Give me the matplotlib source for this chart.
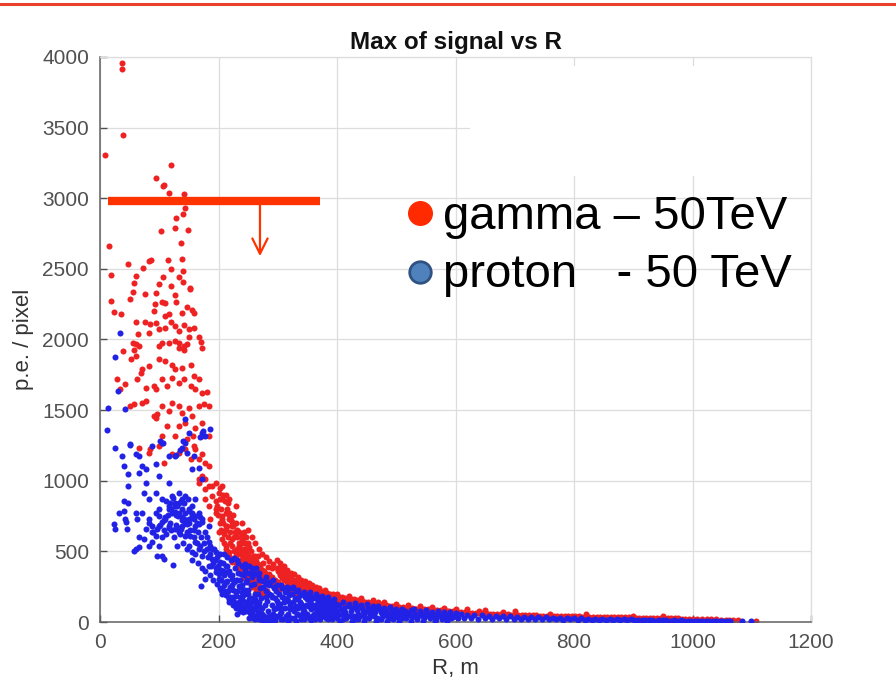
import matplotlib.pyplot as plt
from matplotlib.patches import Rectangle
from matplotlib.lines import Line2D

plt.rcParams['font.family'] = ['Liberation Sans', 'DejaVu Sans']

# gamma 50 TeV (R, p.e./pixel) - sparse part at small R
gamma_core = [
    (37, 3961), (37, 3915), (39, 3450), (8, 3308), (15, 2660), (19, 2460), (47, 2538), (61, 2448),
    (73, 2505), (82, 2559), (86, 2566), (106, 2441), (114, 2562), (119, 2500), (133, 2444), (139, 2571),
    (140, 2484), (136, 2684), (149, 2778), (126, 2786), (103, 2767), (129, 2861), (140, 2887), (144, 2932),
    (141, 3033), (117, 3038), (108, 3097), (106, 3085), (94, 3144), (119, 3238), (152, 2366),
    (57, 2400), (100, 2390), (140, 2410), (120, 2380),
    (19, 2271), (23, 2195), (35, 2184), (55, 2337), (51, 2287), (76, 2323), (94, 2330), (93, 2254),
    (104, 2264), (109, 2259), (127, 2318), (128, 2266), (152, 2358), (146, 2231), (155, 2212), (116, 2177),
    (110, 2165), (91, 2200), (139, 2188), (158, 2188),
    (60, 2122), (76, 2122), (85, 2113), (95, 2118), (100, 2071), (110, 2082), (119, 2122), (127, 2094),
    (133, 2059), (141, 2106), (150, 2071), (158, 2082), (167, 2019), (171, 1981), (172, 1941), (64, 2042),
    (82, 2047), (55, 1976), (61, 1965), (65, 1953), (99, 1953), (105, 1976), (116, 1972), (127, 1988),
    (133, 1976), (141, 1953), (147, 1965), (150, 2019), (39, 1917), (57, 1925), (133, 1941), (141, 1929),
    (53, 1859), (60, 1882), (71, 1788), (70, 1764), (82, 1811), (99, 1859), (109, 1847), (122, 1816),
    (127, 1788), (139, 1800), (153, 1816), (158, 1741), (167, 1717), (29, 1717), (34, 1647), (43, 1682),
    (63, 1717), (77, 1658), (91, 1670), (95, 1647), (105, 1717), (113, 1670), (122, 1729), (133, 1694),
    (141, 1717), (153, 1670), (161, 1647), (172, 1623), (181, 1628),
    (51, 1529), (57, 1541), (71, 1552), (77, 1564), (91, 1458), (95, 1446), (105, 1529), (116, 1493),
    (122, 1552), (133, 1529), (139, 1482), (150, 1517), (155, 1458), (167, 1529), (175, 1541), (184, 1529),
    (133, 1387), (144, 1411), (172, 1411), (161, 1376), (113, 1387), (96, 1470), (105, 1317), (127, 1317),
    (65, 1234), (82, 1199), (147, 1293), (158, 1246), (184, 1317), (172, 1317),
    (85, 1222), (99, 1246), (108, 1128), (122, 1187), (133, 1199), (143, 1222), (157, 1317), (161, 1222),
    (167, 1152), (178, 1128), (184, 1105), (153, 1152), (172, 1034), (167, 1010), (178, 1010), (184, 963),
    (172, 1187),
]

# gamma - knee region
gamma_knee = [
    (195, 987), (201, 916), (189, 893), (203, 869), (206, 963), (198, 822), (212, 775), (217, 728),
    (223, 681), (206, 728), (195, 775), (167, 987), (178, 940), (189, 964), (206, 870), (195, 799),
    (206, 752), (217, 775), (212, 681), (223, 705), (201, 634), (212, 540), (223, 587), (229, 493),
    (234, 540), (240, 446), (246, 516), (251, 422), (234, 375), (251, 328), (223, 422), (217, 493),
    (206, 587), (229, 634), (240, 610), (206, 705), (186, 728), (184, 823), (178, 870), (217, 870),
    (229, 823),
    (203, 950), (207, 900), (211, 860), (214, 800), (218, 760), (221, 720), (225, 680), (228, 640),
    (231, 600), (235, 560), (238, 520), (241, 480), (245, 450), (248, 420), (252, 390), (255, 360),
    (258, 340), (262, 320), (265, 300), (269, 280), (204, 800), (208, 700), (212, 650), (216, 600),
    (219, 560), (223, 540), (227, 500), (230, 470), (233, 430), (237, 400), (240, 380), (244, 360),
    (247, 330), (250, 310), (254, 290), (257, 270), (261, 260), (264, 240), (268, 230), (272, 220),
    (209, 620), (215, 680), (220, 640), (226, 600), (232, 520), (236, 480), (242, 420), (246, 390),
    (253, 340), (259, 300), (266, 270), (271, 250), (275, 240), (278, 230), (282, 220), (196, 860),
    (199, 760), (202, 700), (205, 650), (210, 560), (213, 520), (217, 470), (222, 440), (229, 420),
    (234, 380), (239, 340), (243, 310), (249, 280), (256, 250), (263, 220), (270, 200), (276, 190),
    (212, 900), (216, 840), (224, 760), (230, 700), (234, 640), (239, 580), (244, 520), (249, 470),
    (254, 430), (258, 400), (263, 370), (268, 350), (273, 330), (278, 310), (283, 290), (288, 270),
    (293, 250), (297, 240), (302, 230), (286, 340), (291, 320), (296, 300), (300, 280), (305, 265),
    (310, 250), (314, 240), (319, 230), (324, 220), (328, 210), (333, 200), (338, 195), (298, 380),
    (304, 350), (309, 320), (315, 300), (320, 280), (326, 265), (331, 250), (336, 240),
    (290, 380), (275, 420), (262, 470), (245, 560), (232, 650), (310, 330),
    (240, 700), (243, 640), (246, 600), (249, 560), (252, 530), (255, 500), (258, 470), (261, 450),
    (264, 430), (267, 410), (270, 390), (273, 370), (276, 360), (279, 345), (282, 330), (285, 320),
    (288, 305), (291, 295), (294, 285), (297, 275), (300, 268), (241, 560), (244, 520), (247, 490),
    (250, 470), (253, 450), (256, 430), (259, 410), (262, 395), (265, 380), (268, 360), (271, 345),
    (274, 330), (277, 315), (280, 300), (283, 290), (286, 280), (289, 270), (292, 260), (295, 252),
    (298, 245),
    (262, 560), (268, 520), (274, 480), (280, 460), (286, 430), (292, 410), (298, 440), (304, 420),
    (310, 400), (316, 370), (322, 350), (328, 340), (334, 320), (340, 300), (346, 290), (352, 275),
    (358, 265), (364, 250), (370, 240), (256, 600), (250, 650), (266, 470), (284, 390), (300, 360),
    (320, 310), (330, 280), (360, 240),
]

# gamma - tail
gamma_tail = [
    (341, 230), (346, 220), (351, 210), (356, 200), (361, 195), (366, 185), (371, 180), (376, 170),
    (381, 165), (386, 160), (391, 155), (396, 150), (343, 260), (349, 245), (354, 235), (359, 225),
    (364, 215), (369, 210), (374, 200), (379, 195), (384, 185), (389, 180), (394, 175), (399, 170),
    (404, 165), (409, 160), (414, 155), (419, 150), (424, 145), (429, 142), (434, 138), (439, 135),
    (444, 130), (449, 127), (404, 140), (410, 135), (416, 130), (422, 127), (428, 122), (434, 118),
    (440, 115), (446, 112), (452, 110), (458, 107), (464, 104), (470, 101), (476, 98), (482, 96),
    (454, 125), (460, 122), (466, 118), (472, 115), (478, 112), (484, 110), (490, 107), (496, 105),
    (502, 103), (508, 100), (514, 98), (520, 96), (526, 94), (532, 92), (538, 90), (544, 88),
    (550, 86), (488, 92), (494, 90), (500, 88), (506, 86), (512, 84), (518, 82), (524, 80),
    (530, 78), (536, 77), (542, 76), (548, 74), (556, 84), (562, 82), (568, 80), (574, 78),
    (580, 76), (586, 75), (592, 74), (598, 72), (604, 71), (610, 70), (616, 68), (622, 67),
    (628, 66), (634, 64), (640, 63), (646, 62), (652, 61), (658, 60), (664, 58), (670, 57),
    (676, 56), (682, 55), (688, 54), (694, 53), (700, 52), (706, 51), (712, 50), (718, 49),
    (724, 48), (730, 47), (736, 47), (742, 46), (748, 45), (754, 44), (760, 44), (766, 43),
    (772, 42), (778, 42), (784, 41), (790, 41), (796, 40), (802, 39), (808, 39), (814, 38),
    (820, 38), (826, 37), (832, 37), (838, 36), (844, 36), (850, 35), (856, 35), (862, 34),
    (868, 34), (874, 33), (880, 33), (886, 32), (892, 32), (898, 31), (904, 31), (910, 30),
    (916, 30), (922, 29), (928, 29), (934, 28), (940, 28), (946, 27), (952, 27), (958, 26),
    (964, 26), (970, 25), (976, 25), (982, 24), (988, 24), (994, 23), (1000, 23), (1008, 22),
    (1016, 21), (1024, 20), (1032, 19), (1040, 18), (1048, 17), (1056, 16), (1062, 15), (1068, 14),
    (1076, 13), (1108, 8),
    (560, 105), (620, 90), (700, 75), (760, 60), (820, 55), (900, 45), (950, 40), (650, 85),
    (580, 100), (470, 140), (420, 170), (370, 215),
    (303, 330), (307, 310), (311, 295), (315, 285), (319, 270), (323, 258), (327, 248), (331, 238),
    (335, 228), (339, 222), (343, 214), (347, 206), (351, 198), (355, 192), (359, 186), (363, 180),
    (367, 174), (371, 168), (375, 163), (379, 158), (383, 154), (387, 150), (391, 146), (395, 142),
    (399, 138), (303, 390), (308, 370), (313, 350), (318, 330), (323, 315), (328, 300), (333, 285),
    (338, 275), (343, 265), (348, 255), (353, 245), (358, 238), (363, 230), (368, 224), (373, 218),
    (378, 212), (383, 206), (388, 200), (393, 195), (398, 190),
    (403, 180), (408, 176), (413, 172), (418, 168), (423, 164), (428, 160), (433, 156), (438, 152),
    (443, 148), (448, 144), (453, 140), (458, 136), (463, 132), (468, 128), (473, 125), (478, 122),
    (483, 119), (488, 116), (493, 113), (498, 110), (405, 150), (411, 146), (417, 142), (423, 138),
    (429, 134), (435, 130), (441, 127), (447, 124), (453, 120), (459, 117), (465, 114), (471, 111),
    (477, 108), (483, 105), (489, 102), (495, 100),
    (505, 108), (512, 104), (519, 101), (526, 98), (533, 95), (540, 93), (547, 91), (554, 89),
    (561, 87), (568, 85), (575, 83), (582, 81), (589, 79), (596, 77), (505, 92), (512, 90),
    (519, 88), (526, 86), (533, 84), (540, 82), (547, 80), (554, 78), (561, 76), (568, 74),
    (575, 72), (582, 70), (589, 68), (596, 66),
    (380, 225), (400, 200), (420, 185), (440, 170), (460, 155), (480, 140), (500, 130), (520, 120),
    (540, 112), (560, 100), (600, 92), (640, 80), (680, 70),
]

# proton 50 TeV - sparse part at small R
proton_core = [
    (33, 2047), (26, 1875), (30, 1635), (42, 1505), (13, 1517), (11, 1359), (26, 1234), (51, 1258),
    (37, 1175), (40, 1105), (60, 1187), (65, 1175), (71, 1105), (65, 1058), (48, 1046), (88, 1246),
    (105, 1270), (94, 1116), (77, 1081), (99, 1034), (116, 1175), (127, 1175), (144, 1270), (143, 1434),
    (150, 1340), (139, 1234), (158, 1175), (172, 1340), (178, 1317), (186, 1364), (167, 1093), (155, 1081),
    (172, 1010), (116, 987), (77, 987), (74, 916), (82, 869), (94, 916), (48, 963), (40, 857),
    (32, 775), (43, 728), (60, 775), (71, 775), (82, 704), (99, 798), (110, 728), (122, 893),
    (127, 846), (133, 916), (139, 869), (144, 893), (150, 798), (155, 775), (161, 869), (167, 775),
    (172, 728), (105, 869), (116, 822), (122, 775), (133, 775), (141, 728), (147, 692), (158, 728),
    (167, 692), (184, 681), (99, 681), (116, 669), (133, 669),
    (23, 693), (25, 658), (40, 787), (48, 846), (44, 705), (46, 658), (63, 728), (65, 599),
    (60, 516), (65, 528), (57, 504), (74, 587), (77, 658), (88, 681), (82, 728), (94, 775),
    (99, 752), (105, 705), (110, 740), (116, 799), (127, 823), (133, 846), (139, 799), (144, 775),
    (150, 787), (155, 823), (88, 634), (94, 610), (99, 540), (105, 469), (108, 446), (123, 403),
    (116, 681), (127, 658), (133, 634), (139, 681), (144, 610), (150, 540), (155, 493), (161, 563),
    (167, 516), (172, 469), (150, 728), (161, 752), (172, 705), (178, 634), (88, 563), (96, 469),
    (82, 540),
    (174, 1350), (169, 1310), (140, 1280), (135, 1220), (146, 1200), (129, 1180), (107, 1265), (101, 1280),
    (51, 1255),
    (112, 860), (118, 840), (124, 880), (130, 820), (136, 860), (142, 840), (148, 870), (120, 800),
    (126, 780), (132, 750), (138, 720), (144, 700), (114, 760), (108, 720), (102, 690), (96, 660),
    (90, 640), (104, 600), (112, 620), (120, 650), (128, 690), (136, 660), (146, 640), (152, 610),
    (158, 650), (164, 700), (168, 740), (156, 760), (150, 700),
]

# proton - knee region
proton_knee = [
    (170, 257), (178, 304), (184, 398), (189, 446), (195, 351), (201, 304), (206, 234), (217, 139),
    (229, 186), (240, 210), (251, 116), (203, 422), (212, 351), (223, 304), (234, 257), (246, 281),
    (262, 163), (184, 563), (189, 516), (195, 493),
    (165, 640), (170, 600), (175, 560), (180, 520), (185, 480), (190, 420), (195, 380), (200, 340),
    (205, 300), (210, 260), (215, 220), (220, 180), (225, 150), (160, 680), (152, 650), (158, 600),
    (163, 560), (168, 540), (176, 500), (182, 460), (188, 400), (194, 440), (199, 400), (204, 370),
    (209, 330), (214, 290), (219, 250), (224, 230), (230, 210), (236, 180), (242, 150), (248, 140),
    (254, 120), (258, 100), (180, 600), (186, 540), (192, 520), (198, 460), (203, 480), (208, 420),
    (213, 400), (218, 360), (222, 330), (227, 280), (232, 300), (238, 250), (244, 230), (250, 200),
    (256, 170), (262, 140), (268, 110), (272, 90), (145, 700), (138, 740), (128, 760), (118, 700),
    (108, 650), (135, 620), (125, 600), (140, 560), (147, 520), (130, 540), (160, 480), (155, 440),
    (165, 420), (172, 380), (178, 360), (185, 330), (190, 300), (197, 270), (202, 240), (207, 210),
    (212, 190), (218, 160), (224, 120), (230, 100), (236, 80), (242, 70),
    (202, 420), (204, 300), (206, 200), (208, 360), (210, 220), (212, 280), (214, 400), (216, 220),
    (218, 180), (220, 330), (222, 260), (224, 180), (226, 140), (228, 380), (230, 300), (232, 220),
    (234, 140), (236, 120), (238, 340), (240, 260), (242, 190), (244, 110), (246, 400), (248, 300),
    (250, 230), (252, 160), (254, 90), (256, 70), (258, 350), (260, 270), (262, 200), (264, 130),
    (266, 70), (268, 310), (270, 240), (272, 170), (274, 100), (276, 40), (278, 290), (280, 220),
    (282, 150), (284, 80), (286, 260), (288, 190), (290, 120), (292, 60), (294, 240), (296, 170),
    (298, 100), (300, 40), (209, 480), (215, 460), (221, 440), (227, 450), (233, 420), (239, 400),
    (245, 370), (251, 350), (257, 320), (263, 340), (269, 300), (275, 290), (281, 270), (287, 280),
    (293, 250), (299, 260), (205, 230), (211, 200), (217, 170), (223, 150), (229, 130), (235, 110),
    (241, 95), (247, 80), (253, 65), (259, 50), (265, 40), (271, 30), (277, 20), (283, 15),
    (289, 10), (295, 15),
    (231, 60), (233, 350), (237, 300), (239, 160), (243, 330), (245, 200), (249, 120), (251, 400),
    (255, 260), (257, 150), (261, 90), (263, 380), (267, 200), (269, 140), (273, 60), (275, 250),
    (279, 120), (281, 180), (285, 200), (287, 30), (291, 180), (293, 90), (297, 220), (299, 150),
    (232, 440), (244, 410), (256, 380), (268, 350), (280, 320), (292, 300), (252, 30), (258, 25),
    (262, 20), (268, 20), (274, 15), (280, 10), (286, 40), (290, 25), (296, 45),
]

# proton - tail
proton_tail = [
    (302, 200), (304, 130), (306, 70), (308, 240), (310, 170), (312, 100), (314, 40), (316, 220),
    (318, 150), (320, 90), (322, 30), (324, 200), (326, 140), (328, 80), (330, 220), (332, 160),
    (334, 100), (336, 50), (338, 190), (340, 130), (342, 70), (344, 20), (346, 180), (348, 120),
    (350, 60), (352, 200), (354, 150), (356, 90), (358, 40), (360, 170), (362, 110), (364, 60),
    (366, 160), (368, 100), (370, 50), (372, 150), (374, 95), (376, 40), (378, 160), (380, 110),
    (382, 60), (384, 20), (386, 140), (388, 90), (390, 45), (392, 150), (394, 100), (396, 55),
    (398, 130), (400, 80), (400, 30), (305, 260), (315, 250), (325, 245), (335, 230), (345, 215),
    (355, 210), (365, 195), (375, 185), (385, 175), (395, 165),
    (301, 120), (303, 60), (307, 180), (309, 20), (311, 140), (313, 210), (317, 60), (319, 190),
    (321, 120), (323, 240), (327, 30), (329, 170), (331, 110), (333, 60), (337, 140), (339, 20),
    (341, 200), (343, 100), (347, 40), (349, 160), (351, 110), (353, 30), (357, 180), (359, 120),
    (361, 60), (363, 20), (367, 130), (369, 180), (371, 20), (373, 120), (377, 70), (379, 130),
    (381, 30), (383, 170), (387, 60), (389, 120), (391, 20), (393, 80), (397, 40), (399, 110),
    (305, 100), (315, 160), (325, 100), (335, 170), (345, 80), (355, 140), (365, 90), (375, 130),
    (385, 100), (395, 110), (305, 20), (318, 10), (330, 10), (342, 40), (356, 15), (368, 70),
    (380, 80), (392, 110),
    (404, 120), (408, 60), (412, 100), (416, 30), (420, 130), (424, 80), (428, 40), (432, 110),
    (436, 60), (440, 120), (444, 80), (448, 30), (452, 100), (456, 60), (460, 110), (464, 70),
    (468, 30), (472, 95), (476, 55), (480, 100), (484, 60), (488, 25), (492, 85), (496, 50),
    (500, 90), (505, 55), (510, 25), (515, 80), (520, 50), (525, 85), (530, 45), (535, 20),
    (540, 75), (545, 45), (550, 80), (555, 40), (560, 70), (565, 35), (570, 65), (575, 40),
    (580, 70), (585, 30), (590, 60), (595, 35), (600, 65), (410, 145), (430, 135), (450, 125),
    (470, 115), (490, 105), (510, 95), (530, 90), (550, 85), (570, 78), (590, 72),
    (402, 50), (406, 90), (410, 20), (414, 70), (418, 110), (422, 40), (426, 100), (430, 20),
    (434, 85), (438, 40), (442, 100), (446, 55), (450, 80), (454, 30), (458, 85), (462, 45),
    (466, 90), (470, 20), (474, 70), (478, 40), (482, 80), (486, 45), (490, 60), (494, 20),
    (498, 65), (502, 35), (507, 75), (512, 50), (517, 25), (522, 65), (527, 35), (532, 60),
    (537, 40), (542, 60), (547, 25), (552, 55), (557, 25), (562, 50), (567, 20), (572, 50),
    (577, 20), (582, 45), (587, 50), (592, 25), (597, 45),
    (405, 10), (425, 10), (445, 10), (465, 10), (485, 10), (505, 10), (525, 10), (545, 10),
    (565, 10), (585, 10), (415, 50), (435, 20), (455, 50), (475, 20), (495, 35),
    (605, 30), (610, 55), (615, 25), (620, 50), (626, 28), (632, 52), (638, 24), (644, 48),
    (650, 26), (656, 46), (662, 22), (668, 44), (674, 25), (680, 42), (686, 22), (692, 40),
    (698, 24), (704, 38), (710, 20), (716, 36), (722, 22), (728, 35), (734, 20), (740, 33),
    (746, 18), (752, 32), (758, 20), (764, 30), (770, 18), (776, 29), (782, 16), (788, 28),
    (794, 18), (800, 26), (806, 16), (812, 25), (818, 15), (824, 24), (830, 16), (836, 23),
    (842, 14), (848, 22), (854, 15), (860, 21), (866, 13), (872, 20), (878, 14), (884, 19),
    (890, 12), (896, 18), (902, 13), (908, 17), (914, 11), (920, 16), (926, 12), (932, 15),
    (938, 10), (944, 14), (950, 11), (956, 13), (962, 9), (968, 12), (974, 10), (980, 11),
    (986, 8), (992, 10), (998, 9), (1004, 8), (1010, 9), (1016, 7), (1022, 8), (1028, 7),
    (1034, 6), (1040, 7), (1046, 6), (1052, 5), (1058, 5), (1064, 5), (1084, 5), (1098, 5),
]

x_ticks = [0, 200, 400, 600, 800, 1000, 1200]
y_ticks = [0, 500, 1000, 1500, 2000, 2500, 3000, 3500, 4000]

gamma = gamma_core + gamma_knee + gamma_tail
proton = proton_core + proton_knee + proton_tail

fig = plt.figure(figsize=(8.96, 6.98), dpi=100)
ax = fig.add_axes([100 / 896, 1 - 622 / 698, 711 / 896, 565 / 698])

ax.scatter([p[0] for p in gamma], [p[1] for p in gamma], s=19, color='#ee2222', linewidths=0, zorder=2)
ax.scatter([p[0] for p in proton], [p[1] for p in proton], s=19, color='#2222e6', linewidths=0, zorder=3)

ax.set_xlim(0, 1200)
ax.set_ylim(0, 4000)
ax.set_xticks(x_ticks)
ax.set_yticks(y_ticks)
ax.grid(True, color='#dddddd', linewidth=0.9)
ax.set_axisbelow(True)
ax.tick_params(direction='in', length=5, width=1, colors='#505050', labelsize=15, pad=8)
for side in ['left', 'bottom']:
    ax.spines[side].set_color('#606060')
    ax.spines[side].set_linewidth(1.1)
for side in ['top', 'right']:
    ax.spines[side].set_color('#dddddd')
    ax.spines[side].set_linewidth(0.9)

ax.set_title('Max of signal vs R', fontsize=17.5, fontweight='bold', color='#111111', pad=6)
ax.set_xlabel('R, m', fontsize=16, color='#333333', labelpad=4)
ax.set_ylabel('p.e. / pixel', fontsize=16, color='#333333', labelpad=6)

# white box from the slide covering part of the grid
ax.add_patch(Rectangle((470 / 896, 1 - 176 / 698), 352 / 896, 110 / 698, transform=fig.transFigure,
                       facecolor='white', edgecolor='none', zorder=1, clip_on=False))

# threshold line with arrow
cut_color = '#ff3300'
ax.plot([14, 372], [2980, 2980], color=cut_color, linewidth=6, solid_capstyle='butt', zorder=5)
ax.annotate('', xy=(270, 2570), xytext=(270, 2975),
            arrowprops=dict(arrowstyle='->,head_length=1.1,head_width=0.55', color=cut_color, lw=1.6),
            zorder=5)

# legend as on the slide
ax.plot([420 / 896], [1 - 213 / 698], 'o', ms=17, color='#ff2a00', transform=fig.transFigure, clip_on=False)
ax.plot([420 / 896], [1 - 272 / 698], 'o', ms=15.5, markerfacecolor='#4f81bd', markeredgecolor='#2f5283',
        markeredgewidth=2, transform=fig.transFigure, clip_on=False)
fig.text(443 / 896, 1 - 229 / 698, 'gamma \u2013 50TeV', fontsize=34, va='baseline', color='black')
fig.text(443 / 896, 1 - 287 / 698, 'proton   - 50 TeV', fontsize=34, va='baseline', color='black')

# red line at top of slide
fig.add_artist(Line2D([0, 1], [1 - 4 / 698, 1 - 4 / 698], color='#e8412c', linewidth=2.2))

fig.savefig('out.png', dpi=100)
